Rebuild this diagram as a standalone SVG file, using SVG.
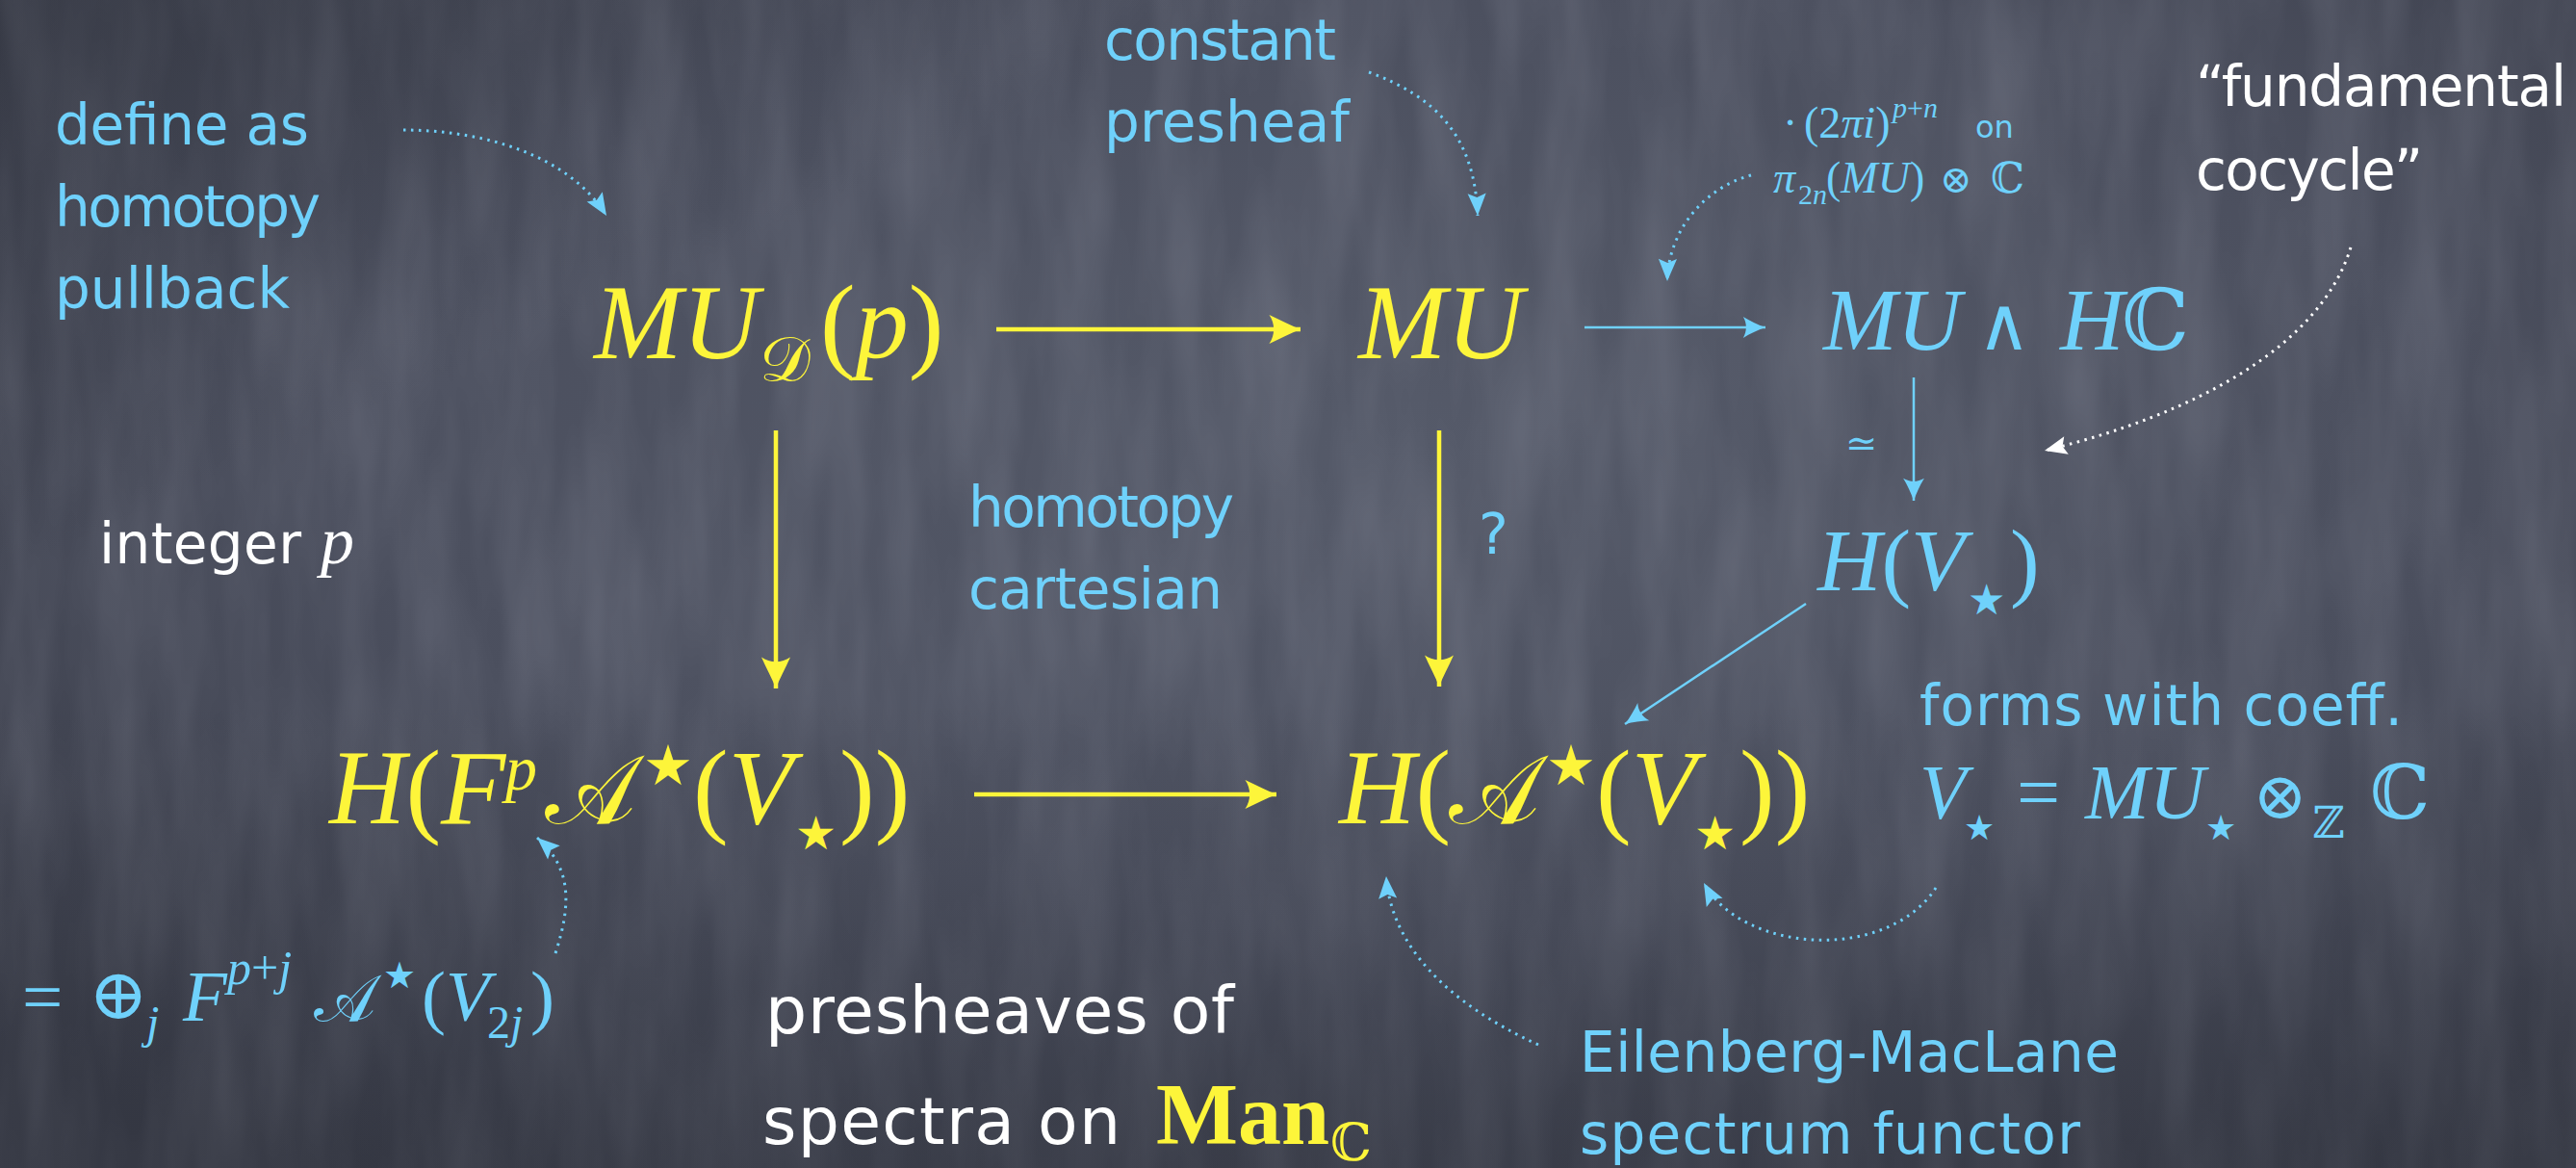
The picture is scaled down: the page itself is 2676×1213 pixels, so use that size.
<svg xmlns="http://www.w3.org/2000/svg" width="2676" height="1213" viewBox="0 0 2676 1213">
<style>
.cb{font-family:"DejaVu Sans","Noto Sans",sans-serif;fill:#6fd1fb}
.cw{font-family:"DejaVu Sans","Noto Sans",sans-serif;fill:#ffffff}
.m{font-family:"Liberation Serif","DejaVu Serif",serif;font-style:italic}
.u{font-family:"Liberation Serif","DejaVu Serif",serif;font-style:normal}
.s{font-family:"DejaVu Serif","DejaVu Sans",serif;font-style:normal}
.y{fill:#fdf53a}
.b{fill:#6fd1fb}
.ya{stroke:#fdf53a;stroke-width:4.5;fill:none}
.ba{stroke:#6fd1fb;stroke-width:2.5;fill:none}
.bd{stroke:#6fd1fb;stroke-width:3;fill:none;stroke-dasharray:2.5 5.5}
.wd{stroke:#ffffff;stroke-width:3;fill:none;stroke-dasharray:2.5 5.5}
</style>
<defs>
<radialGradient id="bg" cx="0.55" cy="0.38" r="0.75">
<stop offset="0" stop-color="#555a69"/>
<stop offset="0.55" stop-color="#4b4f5e"/>
<stop offset="1" stop-color="#383b47"/>
</radialGradient>
<linearGradient id="lf" x1="0" y1="0" x2="1" y2="1">
<stop offset="0" stop-color="#2a2d36" stop-opacity="0.35"/>
<stop offset="0.25" stop-color="#2a2d36" stop-opacity="0"/>
<stop offset="1" stop-color="#2a2d36" stop-opacity="0"/>
</linearGradient>
<linearGradient id="bl" x1="0" y1="0" x2="0" y2="1">
<stop offset="0.6" stop-color="#2a2d36" stop-opacity="0"/>
<stop offset="1" stop-color="#2a2d36" stop-opacity="0.3"/>
</linearGradient>
<filter id="chalk" x="0" y="0" width="1" height="1">
<feTurbulence type="fractalNoise" baseFrequency="0.02 0.004" numOctaves="3" seed="7"/>
<feColorMatrix type="matrix" values="0 0 0 0 0.6  0 0 0 0 0.62  0 0 0 0 0.72  0 0 0 0.22 -0.06"/>
</filter>
<marker id="ay" markerUnits="userSpaceOnUse" markerWidth="40" markerHeight="40" refX="0" refY="0" viewBox="-30 -15 32 30" orient="auto">
<path d="M0,0 C-8,-3 -17,-8 -26,-12 C-21,-5 -21,5 -26,12 C-17,8 -8,3 0,0 Z" fill="#fdf53a"/>
</marker>
<marker id="ab" markerUnits="userSpaceOnUse" markerWidth="30" markerHeight="30" refX="0" refY="0" viewBox="-20 -10 22 20" orient="auto">
<path d="M0,0 C-6,-2 -12,-5 -17,-8 C-14,-3 -14,3 -17,8 C-12,5 -6,2 0,0 Z" fill="#6fd1fb"/>
</marker>
<marker id="db" markerUnits="userSpaceOnUse" markerWidth="30" markerHeight="30" refX="0" refY="0" viewBox="-20 -10 22 20" orient="auto">
<path d="M0,0 L-17,-7 L-14,0 L-17,7 Z" fill="#6fd1fb"/>
</marker>
<marker id="dw" markerUnits="userSpaceOnUse" markerWidth="30" markerHeight="30" refX="0" refY="0" viewBox="-20 -10 22 20" orient="auto">
<path d="M0,0 L-17,-7 L-14,0 L-17,7 Z" fill="#ffffff"/>
</marker>
</defs>

<g id="background">
<rect width="2676" height="1213" fill="url(#bg)"/>
<rect width="2676" height="1213" filter="url(#chalk)"/>
<rect width="2676" height="1213" fill="url(#lf)"/>
<rect width="2676" height="1213" fill="url(#bl)"/>
</g>

<g id="connectors">
<line class="ya" x1="1035" y1="342" x2="1351" y2="342" marker-end="url(#ay)"/>
<line class="ya" x1="1012" y1="825" x2="1326" y2="825" marker-end="url(#ay)"/>
<line class="ya" x1="806" y1="447" x2="806" y2="715" marker-end="url(#ay)"/>
<line class="ya" x1="1495" y1="447" x2="1495" y2="713" marker-end="url(#ay)"/>
<line class="ba" x1="1646" y1="340" x2="1834" y2="340" marker-end="url(#ab)"/>
<line class="ba" x1="1988" y1="392" x2="1988" y2="520" marker-end="url(#ab)"/>
<line class="ba" x1="1876" y1="627" x2="1688" y2="752" marker-end="url(#ab)"/>
<path class="bd" d="M419,135 C500,135 590,160 630,224" marker-end="url(#db)"/>
<path class="bd" d="M1422,75 C1490,100 1532,140 1535,224" marker-end="url(#db)"/>
<path class="bd" d="M1819,182 C1770,195 1733,240 1732,292" marker-end="url(#db)"/>
<path class="wd" d="M2442,257 C2410,360 2280,430 2124,468" marker-end="url(#dw)"/>
<path class="bd" d="M577,990 C595,935 592,900 558,870" marker-end="url(#db)"/>
<path class="bd" d="M1598,1085 C1500,1040 1445,980 1440,910" marker-end="url(#db)"/>
<path class="bd" d="M2011,922 C1960,1000 1810,990 1770,917" marker-end="url(#db)"/>
</g>

<g id="n-mud">
<text class="m y" font-size="110" x="617" y="372">MU</text>
<text class="s y" font-size="66" x="789" y="396">𝒟</text>
<text class="m y" font-size="110" x="852" y="372"><tspan class="u">(</tspan>p<tspan class="u">)</tspan></text>
</g>

<g id="n-mu">
<text class="m y" font-size="110" x="1411" y="372">MU</text>
</g>

<g id="n-muhc">
<text class="m b" font-size="92" x="1894" y="363">MU</text>
<text class="s b" font-size="76" font-weight="200" x="2054" y="363">∧</text>
<text class="m b" font-size="92" x="2140" y="363">H</text>
<text class="s b" font-size="88" x="2204" y="363">ℂ</text>
</g>

<g id="n-hv">
<text class="m b" font-size="92" x="1888" y="613">H<tspan class="u">(</tspan>V</text>
<text class="s b" font-size="44" x="2044" y="638">★</text>
<text class="u b" font-size="92" x="2088" y="613">)</text>
</g>

<g id="n-hfp">
<text class="m y" font-size="110" x="342" y="855">H<tspan class="u">(</tspan>F</text>
<text class="m y" font-size="66" x="525" y="820">p</text>
<text class="s y" font-size="100" x="566" y="855">𝒜</text>
<text class="s y" font-size="58" x="668" y="815">★</text>
<text class="u y" font-size="110" x="720" y="855">(<tspan class="m">V</tspan></text>
<text class="s y" font-size="48" x="826" y="882">★</text>
<text class="u y" font-size="110" x="872" y="855">))</text>
</g>

<g id="n-ha">
<text class="m y" font-size="110" x="1391" y="855">H<tspan class="u">(</tspan></text>
<text class="s y" font-size="100" x="1505" y="855">𝒜</text>
<text class="s y" font-size="58" x="1606" y="815">★</text>
<text class="u y" font-size="110" x="1658" y="855">(<tspan class="m">V</tspan></text>
<text class="s y" font-size="48" x="1760" y="882">★</text>
<text class="u y" font-size="110" x="1807" y="855">))</text>
</g>

<g id="label-define">
<text class="cb" font-size="58" x="57" y="150" textLength="264">define as</text>
<text class="cb" font-size="58" x="57" y="235" textLength="276">homotopy</text>
<text class="cb" font-size="58" x="57" y="320" textLength="244">pullback</text>
</g>

<g id="label-constant">
<text class="cb" font-size="58" x="1147" y="62" textLength="241">constant</text>
<text class="cb" font-size="58" x="1147" y="147" textLength="255">presheaf</text>
</g>

<g id="label-factor">
<text class="u b" font-size="46" x="1852" y="143">·</text>
<text class="u b" font-size="46" x="1874" y="143">(2<tspan class="m">πi</tspan>)</text>
<text class="m b" font-size="30" x="1966" y="122">p<tspan class="u">+</tspan>n</text>
<text class="cb" font-size="32" x="2052" y="143">on</text>
<text class="m b" font-size="46" x="1842" y="200">π</text>
<text class="u b" font-size="30" x="1868" y="212">2<tspan class="m">n</tspan></text>
<text class="m b" font-size="46" x="1897" y="200"><tspan class="u">(</tspan>MU<tspan class="u">)</tspan></text>
<text class="s b" font-size="40" x="2015" y="200">⊗</text>
<text class="s b" font-size="44" x="2068" y="200">ℂ</text>
</g>

<g id="label-fundamental">
<text class="cw" font-size="58" x="2281" y="110" textLength="385">“fundamental</text>
<text class="cw" font-size="58" x="2281" y="197" textLength="236">cocycle”</text>
</g>

<g id="label-integer">
<text class="cw" font-size="58" x="103" y="585" textLength="210">integer</text>
<text class="m" fill="#ffffff" font-size="70" x="333" y="585">p</text>
</g>

<g id="label-hc">
<text class="cb" font-size="58" x="1006" y="547" textLength="276">homotopy</text>
<text class="cb" font-size="58" x="1006" y="632" textLength="264">cartesian</text>
</g>

<g id="label-q">
<text class="cb" font-size="58" x="1536" y="575">?</text>
</g>

<g id="label-simeq">
<text class="s b" font-size="40" x="1917" y="474">≃</text>
</g>

<g id="label-forms">
<text class="cb" font-size="58" x="1994" y="753" textLength="502">forms with coeff.</text>
<text class="m b" font-size="80" x="1994" y="850">V</text>
<text class="s b" font-size="36" x="2040" y="872">★</text>
<text class="u b" font-size="80" x="2095" y="850">=</text>
<text class="m b" font-size="80" x="2166" y="850">MU</text>
<text class="s b" font-size="36" x="2291" y="872">★</text>
<text class="s b" font-size="68" x="2340" y="850">⊗</text>
<text class="s b" font-size="46" x="2402" y="870">ℤ</text>
<text class="s b" font-size="78" x="2462" y="850">ℂ</text>
</g>

<g id="label-sum">
<text class="u b" font-size="75" x="23" y="1060">=</text>
<text class="s b" font-size="74" x="92" y="1058">⊕</text>
<text class="m b" font-size="48" x="152" y="1078">j</text>
<text class="m b" font-size="75" x="190" y="1060">F</text>
<text class="m b" font-size="50" x="236" y="1022">p<tspan class="u">+</tspan>j</text>
<text class="s b" font-size="68" x="326" y="1060">𝒜</text>
<text class="s b" font-size="38" x="398" y="1026">★</text>
<text class="u b" font-size="75" x="438" y="1060">(<tspan class="m">V</tspan></text>
<text class="u b" font-size="48" x="506" y="1078">2<tspan class="m">j</tspan></text>
<text class="u b" font-size="75" x="551" y="1060">)</text>
</g>

<g id="label-presheaves">
<text class="cw" font-size="68" x="795" y="1073" textLength="487">presheaves of</text>
<text class="cw" font-size="68" x="792" y="1188" textLength="372">spectra on</text>
<text class="u y" font-size="90" font-weight="bold" x="1201" y="1188">Man</text>
<text class="s y" font-size="54" x="1382" y="1205">ℂ</text>
</g>

<g id="label-em">
<text class="cb" font-size="58" x="1641" y="1113" textLength="560">Eilenberg-MacLane</text>
<text class="cb" font-size="58" x="1641" y="1198" textLength="520">spectrum functor</text>
</g>
</svg>
